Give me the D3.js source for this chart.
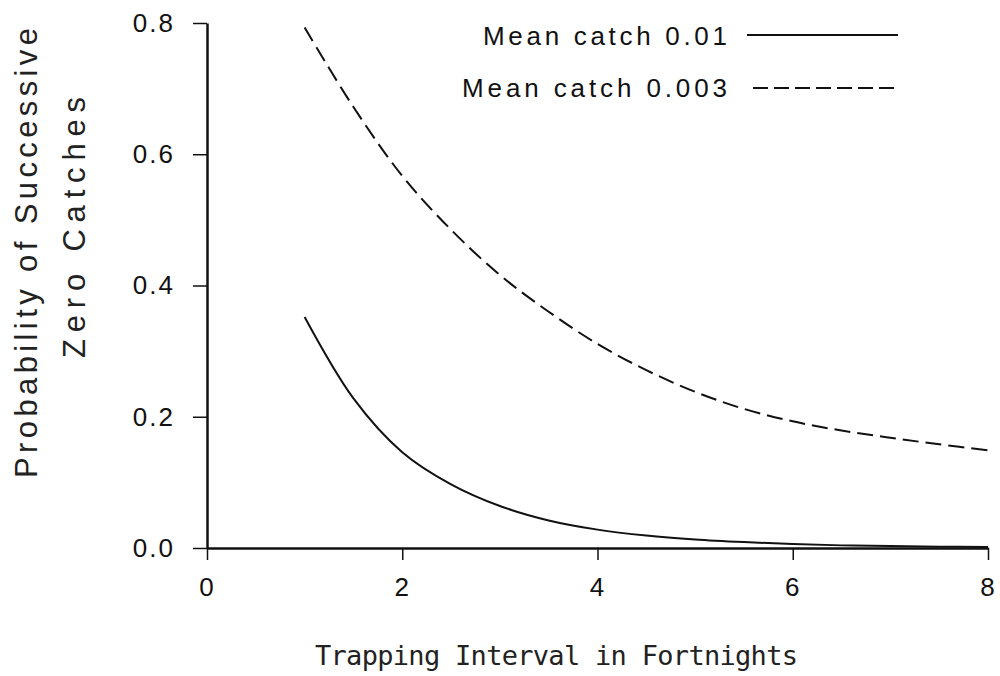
<!DOCTYPE html>
<html>
<head>
<meta charset="utf-8">
<script src="https://cdn.jsdelivr.net/npm/d3@7"></script>
<style>
  body { margin: 0; background: #fff; }
  svg { display: block; }
  .tick text { font-family: "Liberation Sans", Arial, sans-serif; font-size: 26px; fill: #111; letter-spacing: 2px; }
</style>
</head>
<body>
<svg width="1000" height="676"></svg>
<script>
// ---- data ----
const intervals = [1, 1.5, 2, 2.5, 3, 3.5, 4, 4.5, 5, 5.5, 6, 6.5, 7, 7.5, 8];
const catch001 = [0.352, 0.228, 0.146, 0.097, 0.064, 0.042, 0.028, 0.019, 0.013, 0.009, 0.006, 0.004, 0.003, 0.002, 0.0015];
const catch0003 = [0.793, 0.672, 0.567, 0.485, 0.416, 0.36, 0.311, 0.271, 0.238, 0.212, 0.193, 0.179, 0.168, 0.158, 0.149];
const xTicks = [0, 2, 4, 6, 8];
const yTicks = [0, 0.2, 0.4, 0.6, 0.8];
const seriesNames = ["Mean catch 0.01", "Mean catch 0.003"];

const svg = d3.select("svg");

const xs = d3.scaleLinear().domain([0, 8]).range([207, 988]);
const ys = d3.scaleLinear().domain([0, 0.8]).range([548, 23]);

// ---- axes ----
const yAxis = svg.append("g")
    .attr("transform", "translate(207,0)")
    .call(d3.axisLeft(ys).tickValues(yTicks).tickFormat(d3.format(".1f"))
        .tickSize(14).tickSizeOuter(0).tickPadding(18));

const xAxis = svg.append("g")
    .attr("transform", "translate(0,548)")
    .call(d3.axisBottom(xs).tickValues(xTicks).tickFormat(d3.format("d"))
        .tickSize(12).tickSizeOuter(0).tickPadding(18));

[yAxis, xAxis].forEach(g => {
  g.select(".domain").attr("stroke", "#111").attr("stroke-width", 2.5);
  g.selectAll(".tick line").attr("stroke", "#111").attr("stroke-width", 1.5);
});

// ---- curves ----
const line = d3.line()
    .x(d => xs(d[0]))
    .y(d => ys(d[1]))
    .curve(d3.curveCatmullRom.alpha(0.5));

svg.append("path")
    .datum(intervals.map((t, i) => [t, catch001[i]]))
    .attr("fill", "none")
    .attr("stroke", "#111")
    .attr("stroke-width", 2)
    .attr("d", line);

svg.append("path")
    .datum(intervals.map((t, i) => [t, catch0003[i]]))
    .attr("fill", "none")
    .attr("stroke", "#111")
    .attr("stroke-width", 2)
    .attr("stroke-dasharray", "16,7")
    .attr("d", line);

// ---- legend ----
const legend = [
  { name: seriesNames[0], x0: 483, base: 45, ly: 35, lx0: 747, dash: null },
  { name: seriesNames[1], x0: 462, base: 97, ly: 88, lx0: 753, dash: "15,6" }
];
legend.forEach(d => {
  svg.append("text")
      .attr("x", d.x0).attr("y", d.base)
      .attr("textLength", 727 - d.x0)
      .attr("lengthAdjust", "spacing")
      .attr("font-family", "Liberation Sans, Arial, sans-serif")
      .attr("font-size", 26)
      .attr("fill", "#111")
      .text(d.name);
  svg.append("line")
      .attr("x1", d.lx0).attr("x2", 898)
      .attr("y1", d.ly).attr("y2", d.ly)
      .attr("stroke", "#111").attr("stroke-width", 2)
      .attr("stroke-dasharray", d.dash);
});

// ---- axis titles ----
svg.append("text")
    .attr("x", 315).attr("y", 665)
    .attr("textLength", 483)
    .attr("lengthAdjust", "spacing")
    .attr("font-family", "DejaVu Sans Mono, monospace")
    .attr("font-size", 27)
    .attr("fill", "#222")
    .text("Trapping Interval in Fortnights");

svg.append("text")
    .attr("transform", "translate(37,478) rotate(-90)")
    .attr("textLength", 450)
    .attr("lengthAdjust", "spacing")
    .attr("font-family", "Liberation Sans, Arial, sans-serif")
    .attr("font-size", 31)
    .attr("fill", "#222")
    .text("Probability of Successive");

svg.append("text")
    .attr("transform", "translate(85,358) rotate(-90)")
    .attr("textLength", 261)
    .attr("lengthAdjust", "spacing")
    .attr("font-family", "Liberation Sans, Arial, sans-serif")
    .attr("font-size", 31)
    .attr("fill", "#222")
    .text("Zero Catches");
</script>
</body>
</html>
